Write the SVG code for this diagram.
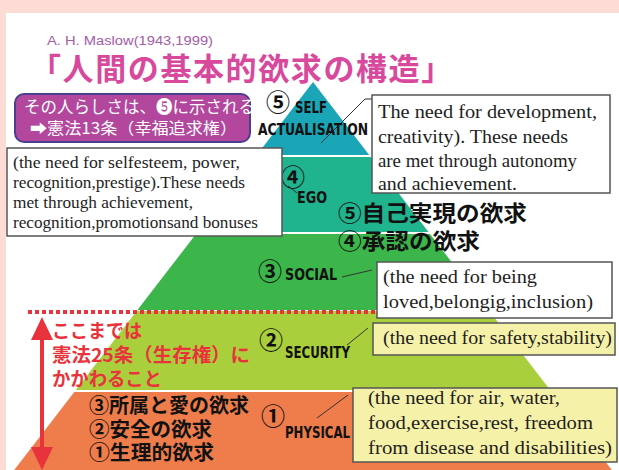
<svg xmlns="http://www.w3.org/2000/svg" width="619" height="470" viewBox="0 0 619 470">
<style>
.jp{font-family:"Noto Sans CJK JP","DejaVu Sans",sans-serif;}
.lbl{font-family:"DejaVu Sans Condensed","Liberation Sans Narrow","Liberation Sans",sans-serif;font-weight:bold;font-size:15px;fill:#111;}
.num{font-family:"Noto Sans CJK JP","DejaVu Sans",sans-serif;font-size:24px;font-weight:bold;fill:#111;text-anchor:middle;}
.ser{font-family:"Liberation Serif","Times New Roman",serif;fill:#1e1e1e;}
.box{stroke:#555;stroke-width:1.5;}
.wbox{fill:#fff;}
.ybox{fill:#f6f1a8;}
.lead{stroke:#333;stroke-width:1;fill:none;}
.blk{fill:#111;font-weight:bold;}
.red{fill:#e8323c;font-weight:bold;font-size:19px;}
</style>
<rect x="0" y="0" width="619" height="470" fill="#fcdcd4"/>
<rect x="6" y="13" width="613" height="457" fill="#ffffff"/>

<g id="pyramid">
<polygon points="313,82 256.8,155 369.2,155" fill="#1ba6b8"/>
<polygon points="255.3,157 370.7,157 428.5,232 197.5,232" fill="#1fb38e"/>
<polygon points="196,234 430,234 488.6,310 137.4,310" fill="#3cb64b"/>
<polygon points="136.7,311 489.3,311 550.2,390 75.8,390" fill="#a9cf3c"/>
<polygon points="74.3,392 551.7,392 611.8,470 14.2,470" fill="#ee7d4b"/>
</g>

<g id="header">
<text x="47" y="45" font-family="Liberation Sans, Arial, sans-serif" font-size="13.5" fill="#a65ba6" textLength="166" lengthAdjust="spacingAndGlyphs">A. H. Maslow(1943,1999)</text>
<text class="jp" x="30" y="80" font-size="31" font-weight="bold" fill="#d8499d" letter-spacing="1.6">「人間の基本的欲求の構造」</text>
</g>

<g id="note-article13">
<rect x="15" y="94" width="235" height="48" rx="9" fill="#b3479e" stroke="#4b3f8f" stroke-width="2"/>
<text class="jp" x="24" y="113" font-size="16.5" fill="#fff">その人らしさは、❺に示される</text>
<text class="jp" x="30" y="134" font-size="16" fill="#fff" textLength="207" lengthAdjust="spacingAndGlyphs">➡憲法13条（幸福追求権）</text>
</g>

<g id="connectors">
<polyline class="lead" points="372,99 365,99 321,143"/>
<line class="lead" x1="288" y1="186" x2="297" y2="193"/>
<line class="lead" x1="342" y1="277" x2="372" y2="270"/>
<line class="lead" x1="347" y1="345" x2="368" y2="328"/>
<line class="lead" x1="317" y1="418" x2="348" y2="395"/>
</g>

<g id="label-self">
<text class="num" x="278" y="111">⑤</text>
<text class="lbl" x="295" y="113" textLength="32" lengthAdjust="spacingAndGlyphs">SELF</text>
<text class="lbl" x="258" y="135" font-size="16" textLength="110" lengthAdjust="spacingAndGlyphs">ACTUALISATION</text>
</g>
<g id="label-ego">
<text class="num" x="293" y="186">④</text>
<text class="lbl" x="297" y="203" textLength="30" lengthAdjust="spacingAndGlyphs">EGO</text>
</g>
<g id="label-social">
<text class="num" x="270" y="280">③</text>
<text class="lbl" x="285" y="280" textLength="52" lengthAdjust="spacingAndGlyphs">SOCIAL</text>
</g>
<g id="label-security">
<text class="num" x="271" y="349">②</text>
<text class="lbl" x="285" y="358" textLength="65" lengthAdjust="spacingAndGlyphs">SECURITY</text>
</g>
<g id="label-physical">
<text class="num" x="273" y="425">①</text>
<text class="lbl" x="285" y="438" textLength="65" lengthAdjust="spacingAndGlyphs">PHYSICAL</text>
</g>

<g id="box-self">
<rect class="box wbox" x="372" y="95" width="238" height="98"/>
<text class="ser" font-size="19.5">
<tspan x="378" y="118" textLength="219" lengthAdjust="spacingAndGlyphs">The need for development,</tspan>
<tspan x="378" y="143" textLength="190" lengthAdjust="spacingAndGlyphs">creativity). These needs</tspan>
<tspan x="378" y="167" textLength="199" lengthAdjust="spacingAndGlyphs">are met through autonomy</tspan>
<tspan x="378" y="190" textLength="139" lengthAdjust="spacingAndGlyphs">and achievement.</tspan>
</text>
</g>

<g id="box-ego">
<rect class="box wbox" x="7" y="148" width="275" height="88"/>
<text class="ser" font-size="17">
<tspan x="13" y="168" textLength="227" lengthAdjust="spacingAndGlyphs">(the need for selfesteem, power,</tspan>
<tspan x="13" y="188" textLength="232" lengthAdjust="spacingAndGlyphs">recognition,prestige).These needs</tspan>
<tspan x="13" y="208" textLength="180" lengthAdjust="spacingAndGlyphs">met through achievement,</tspan>
<tspan x="13" y="228" textLength="245" lengthAdjust="spacingAndGlyphs">recognition,promotionsand bonuses</tspan>
</text>
</g>

<g id="box-social">
<rect class="box wbox" x="377" y="262" width="235" height="56"/>
<text class="ser" font-size="19.5">
<tspan x="383" y="283" textLength="154" lengthAdjust="spacingAndGlyphs">(the need for being</tspan>
<tspan x="383" y="308" textLength="210" lengthAdjust="spacingAndGlyphs">loved,belongig,inclusion)</tspan>
</text>
</g>

<g id="box-security">
<rect class="box ybox" x="373" y="323" width="242" height="32"/>
<text class="ser" font-size="19.5" x="383" y="344" textLength="229" lengthAdjust="spacingAndGlyphs">(the need for safety,stability)</text>
</g>

<g id="box-physical">
<rect class="box ybox" x="353" y="388" width="264" height="74"/>
<text class="ser" font-size="19.5">
<tspan x="368" y="404" textLength="192" lengthAdjust="spacingAndGlyphs">(the need for air, water,</tspan>
<tspan x="368" y="429" textLength="225" lengthAdjust="spacingAndGlyphs">food,exercise,rest, freedom</tspan>
<tspan x="368" y="454" textLength="244" lengthAdjust="spacingAndGlyphs">from disease and disabilities)</tspan>
</text>
</g>

<g id="jp-upper">
<text class="jp blk" x="338" y="221" font-size="22" textLength="189" lengthAdjust="spacingAndGlyphs">⑤自己実現の欲求</text>
<text class="jp blk" x="338" y="249" font-size="22" textLength="142" lengthAdjust="spacingAndGlyphs">④承認の欲求</text>
</g>

<g id="jp-lower">
<text class="jp blk" x="89" y="413" font-size="20" textLength="160" lengthAdjust="spacingAndGlyphs">③所属と愛の欲求</text>
<text class="jp blk" x="89" y="437" font-size="20" textLength="123" lengthAdjust="spacingAndGlyphs">②安全の欲求</text>
<text class="jp blk" x="89" y="460" font-size="20" textLength="125" lengthAdjust="spacingAndGlyphs">①生理的欲求</text>
</g>

<g id="article25">
<line x1="28" y1="312" x2="375" y2="312" stroke="#e8323c" stroke-width="4" stroke-dasharray="4 3"/>
<line x1="42" y1="336" x2="42" y2="452" stroke="#e8323c" stroke-width="4"/>
<polygon points="42,317 31,340 53,340" fill="#e8323c"/>
<polygon points="31,447 53,447 42,470" fill="#e8323c"/>
<text class="jp red" x="52" y="338" textLength="90" lengthAdjust="spacingAndGlyphs">ここまでは</text>
<text class="jp red" x="52" y="362" textLength="198" lengthAdjust="spacingAndGlyphs">憲法25条（生存権）に</text>
<text class="jp red" x="52" y="386" textLength="110" lengthAdjust="spacingAndGlyphs">かかわること</text>
</g>
</svg>
